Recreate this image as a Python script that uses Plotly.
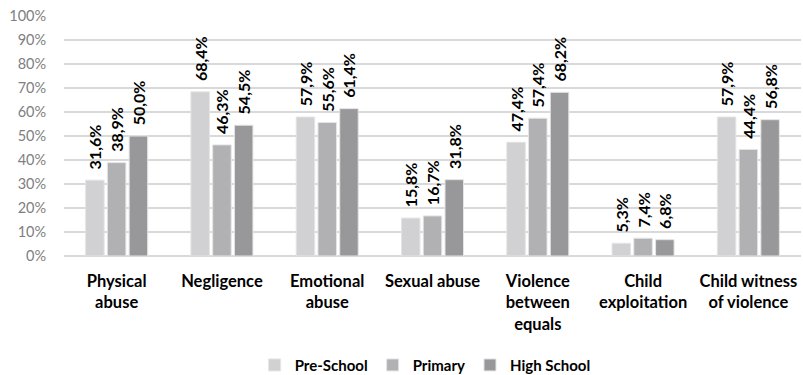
import plotly.graph_objects as go

categories = ["Physical<br>abuse", "Negligence", "Emotional<br>abuse", "Sexual abuse",
              "Violence<br>between<br>equals", "Child<br>exploitation", "Child witness<br>of violence"]
series_names = ["Pre-School", "Primary", "High School"]
pre_school = [31.6, 68.4, 57.9, 15.8, 47.4, 5.3, 57.9]
primary = [38.9, 46.3, 55.6, 16.7, 57.4, 7.4, 44.4]
high_school = [50.0, 54.5, 61.4, 31.8, 68.2, 6.8, 56.8]
colors = ["#d1d1d3", "#b1b1b3", "#98989a"]
y_ticks = list(range(0, 101, 10))

FONT = "Lato"

fig = go.Figure()
for name, vals, col in zip(series_names, [pre_school, primary, high_school], colors):
    fig.add_trace(go.Bar(
        name=name,
        x=categories,
        y=[v / 100 for v in vals],
        marker=dict(color=col, line=dict(color="#e4e4e4", width=1)),
        text=["  " + f"{v:.1f}%".replace(".", ",") for v in vals],
        textposition="outside",
        textangle=-90,
        constraintext="none",
        textfont=dict(family=FONT, size=16, color="#000000", weight="bold"),
        cliponaxis=False,
    ))

fig.update_layout(
    width=803, height=375,
    margin=dict(l=64, r=2, t=16, b=119, autoexpand=False),
    paper_bgcolor="white", plot_bgcolor="white",
    barmode="group", bargap=0.38, bargroupgap=0.15,
    font=dict(family=FONT),
    showlegend=True,
    legend=dict(orientation="h", x=0.49, xanchor="center", y=-0.455, yanchor="middle",
                font=dict(family=FONT, size=15, color="#000000", weight="bold"),
                itemwidth=30, traceorder="normal"),
    xaxis=dict(showgrid=False, showline=False, zeroline=False, automargin=False,
               tickfont=dict(family=FONT, size=16.5, color="#000000", weight="bold"),
               ticks="outside", ticklen=10, tickcolor="rgba(0,0,0,0)"),
    yaxis=dict(range=[0, 1], tickvals=[t / 100 for t in y_ticks],
               ticktext=[f"{t}%" for t in y_ticks], automargin=False,
               showgrid=True, gridcolor="#d9d9d9", gridwidth=1.5,
               zeroline=True, zerolinecolor="#d9d9d9", zerolinewidth=1.5,
               showline=False,
               tickfont=dict(family=FONT, size=14.5, color="#808080"),
               ticks="outside", ticklen=14, tickcolor="rgba(0,0,0,0)"),
)

fig.write_html("out.html")
